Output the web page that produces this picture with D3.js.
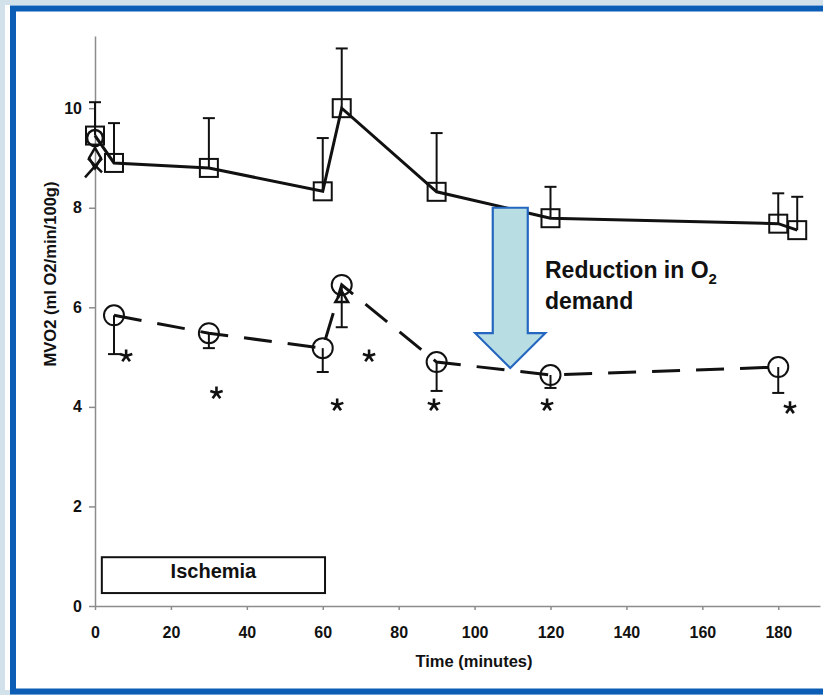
<!DOCTYPE html>
<html>
<head>
<meta charset="utf-8">
<title>MVO2 chart</title>
<script src="https://cdn.jsdelivr.net/npm/d3@7"></script>
<style>
body { margin: 0; background: #fff; }
text { font-family: "Liberation Sans", Arial, sans-serif; font-weight: bold; fill: #111; }
.axis path, .axis line { stroke: #8c8c8c; stroke-width: 1.5; }
.axis text { font-size: 16px; }
</style>
</head>
<body>
<svg width="823" height="695"></svg>
<script>
// time (minutes) and MVO2 values
var solidTime = [0, 5, 30, 60, 65, 90, 120, 180, 185];
var solidVal  = [9.45, 8.9, 8.8, 8.33, 10.0, 8.32, 7.79, 7.68, 7.55];
var solidErr  = [10.12, 9.7, 9.8, 9.4, 11.2, 9.5, 8.42, 8.29, 8.22];

var dashTime = [5, 30, 60, 65, 90, 120, 180];
var dashVal  = [5.84, 5.48, 5.18, 6.45, 4.9, 4.64, 4.8];
var dashErr  = [5.06, 5.18, 4.7, 5.6, 4.32, 4.38, 4.28];

// significance asterisks
var starTime = [8.2, 32, 63.8, 72.2, 89.3, 119.1, 183.1];
var starVal  = [5.02, 4.28, 4.04, 5.02, 4.04, 4.04, 3.98];

// other overlapping markers
var extraTime  = [0, 0, 0, 65];
var extraVal   = [9.4, 9.0, 8.85, 6.18];
var extraShape = ["circle", "diamond", "times", "triangle"];

var xTicks = [0, 20, 40, 60, 80, 100, 120, 140, 160, 180];
var yTicks = [0, 2, 4, 6, 8, 10];

var svg = d3.select("svg");

// frame
svg.append("rect").attr("x", 0).attr("y", 0).attr("width", 860).attr("height", 695)
  .attr("fill", "none").attr("stroke", "#d3e2ea").attr("stroke-width", 10);
svg.append("rect").attr("x", 13).attr("y", 8.5).attr("width", 860).attr("height", 683)
  .attr("fill", "none").attr("stroke", "#0c5db6").attr("stroke-width", 6);

var x = d3.scaleLinear().domain([0, 191]).range([95, 820]);
var y = d3.scaleLinear().domain([0, 11.45]).range([606, 36]);

var xAxis = d3.axisBottom(x).tickValues(xTicks).tickSize(4).tickSizeOuter(0).tickPadding(17);
var yAxis = d3.axisLeft(y).tickValues(yTicks).tickSize(6).tickSizeOuter(0).tickPadding(7);

svg.append("g").attr("class", "axis").attr("transform", "translate(0,606)").call(xAxis);
svg.append("g").attr("class", "axis").attr("transform", "translate(95,0)").call(yAxis);
svg.selectAll(".axis .tick text").attr("fill", "#111");

svg.append("text")
  .attr("transform", "translate(56,274) rotate(-90)")
  .attr("text-anchor", "middle")
  .attr("font-size", 16)
  .attr("textLength", 185).attr("lengthAdjust", "spacingAndGlyphs")
  .text("MVO2 (ml O2/min/100g)");

svg.append("text")
  .attr("x", 474).attr("y", 667)
  .attr("text-anchor", "middle")
  .attr("font-size", 16.5)
  .text("Time (minutes)");

// ischemia box
svg.append("rect")
  .attr("x", x(1.8)).attr("y", y(0.98))
  .attr("width", x(60.6) - x(1.8)).attr("height", y(0.26) - y(0.98))
  .attr("fill", "#fff").attr("stroke", "#111").attr("stroke-width", 2);
svg.append("text")
  .attr("x", x(31.2)).attr("y", 578)
  .attr("text-anchor", "middle").attr("font-size", 20)
  .text("Ischemia");

var solid = solidTime.map(function(t, i) { return {t: t, v: solidVal[i], e: solidErr[i]}; });
var dash = dashTime.map(function(t, i) { return {t: t, v: dashVal[i], e: dashErr[i]}; });

var line = d3.line().x(function(d) { return x(d.t); }).y(function(d) { return y(d.v); });

// error bars
function errBars(data, cls) {
  var g = svg.append("g").attr("class", cls).attr("stroke", "#111").attr("stroke-width", 2);
  g.selectAll("line.v").data(data).enter().append("line").attr("class", "v")
    .attr("x1", function(d) { return x(d.t); }).attr("x2", function(d) { return x(d.t); })
    .attr("y1", function(d) { return y(d.v); }).attr("y2", function(d) { return y(d.e); });
  g.selectAll("line.c").data(data).enter().append("line").attr("class", "c")
    .attr("x1", function(d) { return x(d.t) - 6; }).attr("x2", function(d) { return x(d.t) + 6; })
    .attr("y1", function(d) { return y(d.e); }).attr("y2", function(d) { return y(d.e); });
}
errBars(solid, "errS");
errBars(dash, "errD");

svg.append("path").datum(solid).attr("d", line)
  .attr("fill", "none").attr("stroke", "#111").attr("stroke-width", 3);
svg.append("path").datum(dash).attr("d", line)
  .attr("fill", "none").attr("stroke", "#111").attr("stroke-width", 3)
  .attr("stroke-dasharray", "28,16");

// markers
svg.append("g").selectAll("rect").data(solid).enter().append("rect")
  .attr("x", function(d) { return x(d.t) - 9; }).attr("y", function(d) { return y(d.v) - 9; })
  .attr("width", 18).attr("height", 18)
  .attr("fill", "none").attr("stroke", "#111").attr("stroke-width", 2);
svg.append("g").selectAll("circle").data(dash).enter().append("circle")
  .attr("cx", function(d) { return x(d.t); }).attr("cy", function(d) { return y(d.v); })
  .attr("r", 10)
  .attr("fill", "none").attr("stroke", "#111").attr("stroke-width", 2);

var shapes = {
  circle: d3.symbol().type(d3.symbolCircle).size(200)(),
  diamond: d3.symbol().type(d3.symbolDiamond).size(120)(),
  triangle: d3.symbol().type(d3.symbolTriangle).size(70)(),
  times: "M-10,12L7,-7M-7,-7L7,7"
};
svg.append("g").selectAll("path").data(extraTime).enter().append("path")
  .attr("transform", function(t, i) { return "translate(" + x(t) + "," + y(extraVal[i]) + ")"; })
  .attr("d", function(t, i) { return shapes[extraShape[i]]; })
  .attr("fill", "none")
  .attr("stroke", "#111").attr("stroke-width", 2.5);

// asterisks
var starPath = d3.range(5).map(function(k) {
  var a = -Math.PI / 2 + k * 2 * Math.PI / 5;
  return "M0,0L" + (6.5 * Math.cos(a)).toFixed(2) + "," + (6.5 * Math.sin(a)).toFixed(2);
}).join("");
svg.append("g").selectAll("path").data(starTime).enter().append("path")
  .attr("transform", function(t, i) { return "translate(" + x(t) + "," + y(starVal[i]) + ")"; })
  .attr("d", starPath)
  .attr("stroke", "#111").attr("stroke-width", 2.6).attr("stroke-linecap", "butt");

// arrow annotation
var aT = 109.4, aTop = 8.0, aTip = 4.78, aNeck = 5.48;
var cx = x(aT);
var arrowPts = [
  [cx - 17.5, y(aTop)], [cx + 17.5, y(aTop)], [cx + 17.5, y(aNeck)], [cx + 35, y(aNeck)],
  [cx, y(aTip)], [cx - 35, y(aNeck)], [cx - 17.5, y(aNeck)]
];
svg.append("polygon")
  .attr("points", arrowPts.map(function(p) { return p.join(","); }).join(" "))
  .attr("fill", "#b8dee3").attr("stroke", "#2466c0").attr("stroke-width", 2.2);

var note = svg.append("text").attr("x", 545).attr("y", 278).attr("font-size", 23);
note.append("tspan").text("Reduction in O");
note.append("tspan").attr("font-size", 15).attr("dy", 6).text("2");
svg.append("text").attr("x", 545).attr("y", 309).attr("font-size", 23).text("demand");
</script>
</body>
</html>
